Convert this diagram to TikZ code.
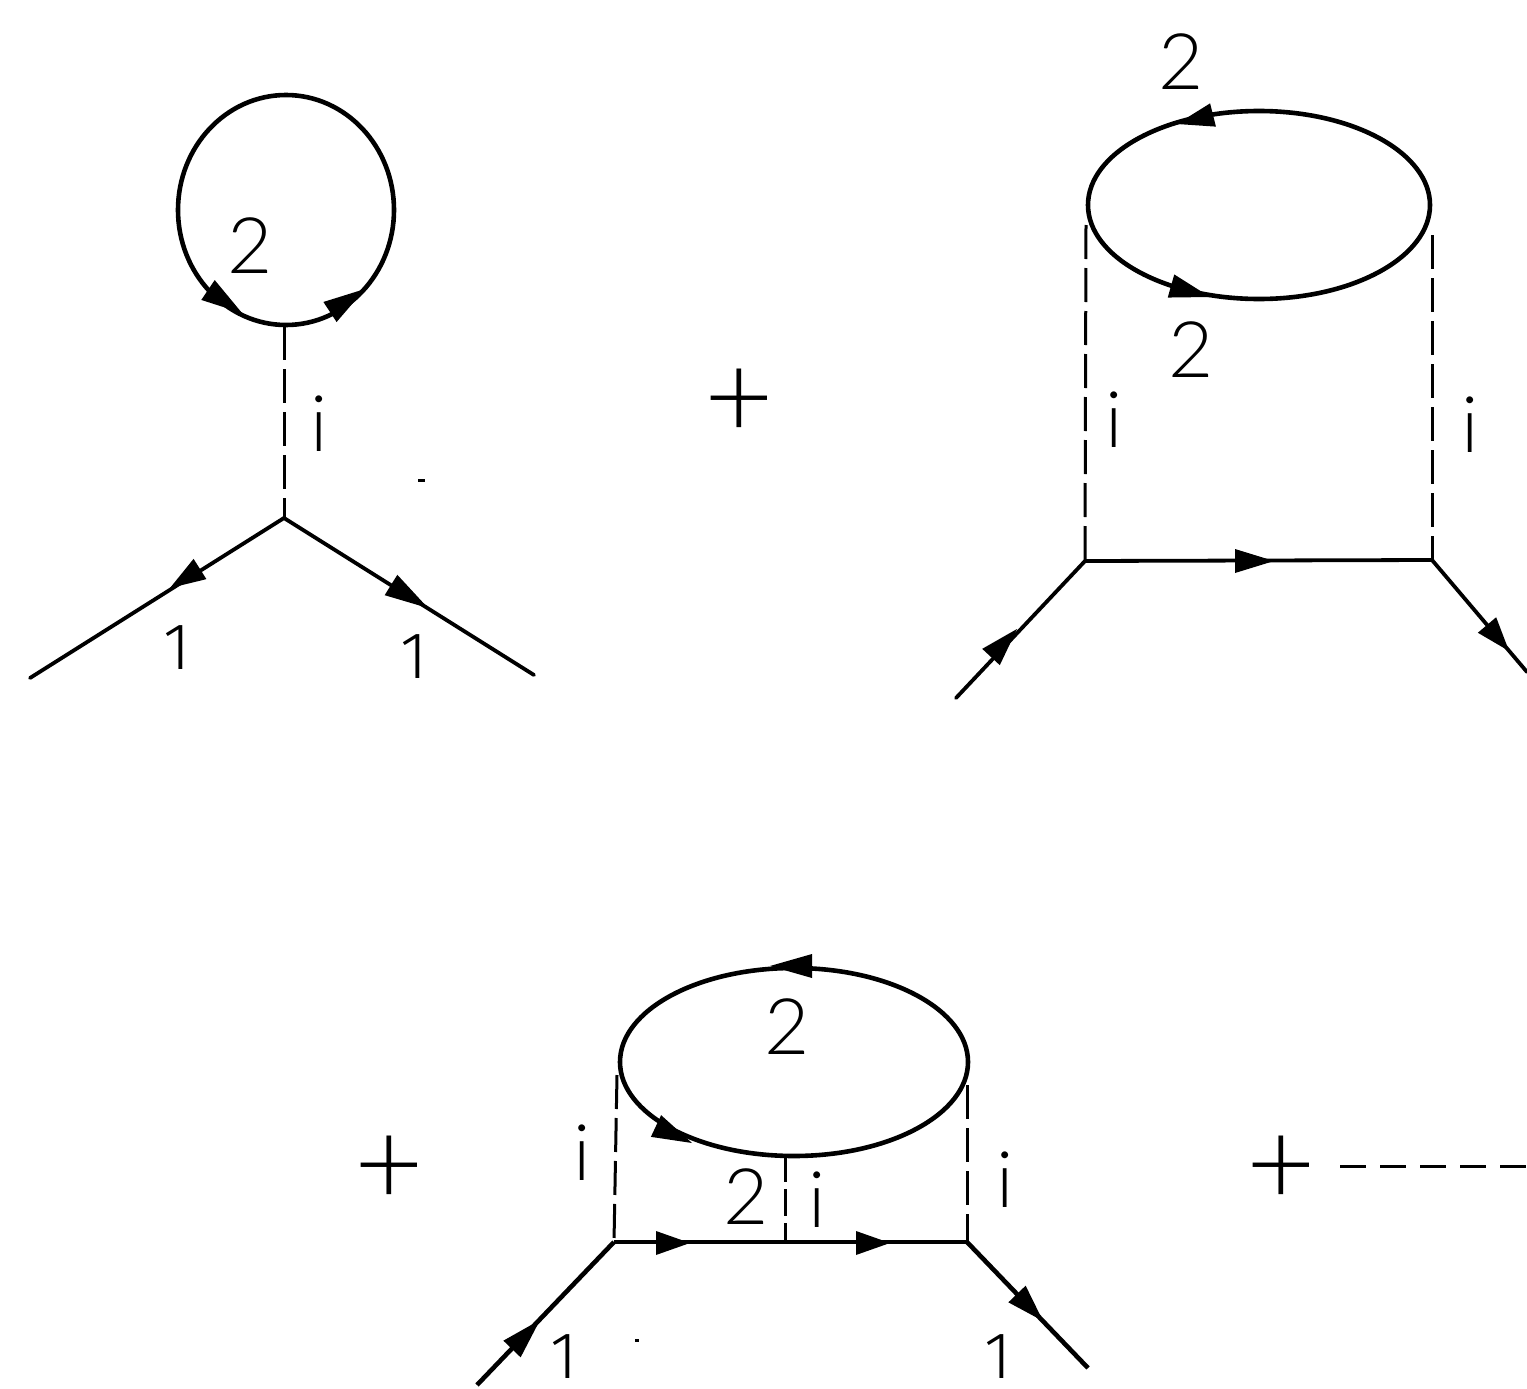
\documentclass[tikz,border=0pt]{standalone}
\usepackage{fontspec}
\setmainfont{Lato Light}
\newfontfamily\onefont{Fira Sans Light}
\usetikzlibrary{calc}
\newcommand{\flowtip}[2]{\fill[black] ($(#1)!12pt!90:(#2)$) -- ($(#1)!12pt!-90:(#2)$) -- (#2) -- cycle;}
\tikzset{
  x=1pt,y=-1pt,
  fline/.style={line width=4.6pt,black},
  sline/.style={line width=3.8pt,black,line cap=round},
  boson/.style={line width=3pt,black,dash pattern=on 34pt off 9pt},
  shortboson/.style={line width=3pt,black,dash pattern=on 27pt off 7pt},
  lab/.style={font=\fontsize{78}{78}\selectfont,inner sep=0pt,text=black},
  onelab/.style={font=\onefont\fontsize{66}{66}\selectfont,inner sep=0pt,text=black},
  plusnode/.style={font=\fontsize{120}{120}\selectfont,inner sep=0pt,text=black},
  tinymark/.style={fill=black,inner sep=0pt,minimum width=7pt,minimum height=3pt},
}
\begin{document}
\begin{tikzpicture}
\useasboundingbox (0,0) rectangle (1527,1389);
% top left
\coordinate (a1) at (284,518);
\coordinate (a2) at (284,326);
\coordinate (a3) at (30,678);
\coordinate (a4) at (534,675);
\draw[fline] (286,210) ellipse [x radius=108,y radius=115];
\flowtip{208,290}{242,313}
\flowtip{330,312}{365,289}
\draw[boson] (a2)--(a1);
\draw[sline] (a1)--(a3);
\draw[sline] (a1)--(a4);
\flowtip{200,569}{170,588}
\flowtip{391,585}{428,608}
\node[lab] (t1) at (250,246) {2};
\node[lab] (t2) at (319,424) {i};
\node[onelab] (t3) at (177,648) {1};
\node[onelab] (t4) at (414,657) {1};
\node[tinymark] (d1) at (421,480) {};
% plus
\node[plusnode] (p1) at (739,404) {+};
% top right
\coordinate (b1) at (1085,561);
\coordinate (b2) at (1432,560);
\coordinate (b3) at (956,698);
\coordinate (b4) at (1527,672);
\coordinate (b5) at (1086,225);
\coordinate (b6) at (1432,235);
\draw[fline] (1259,205) ellipse [x radius=171,y radius=94];
\flowtip{1213,115}{1177,124}
\flowtip{1171,286}{1210,297}
\draw[boson] (b5)--(b1);
\draw[boson] (b6)--(b2);
\draw[sline] (b1)--(b2);
\draw[sline] (b3)--(b1);
\draw[sline] (b2)--(b4);
\flowtip{1235,561}{1274,561}
\flowtip{991,657}{1017,629}
\flowtip{1487,625}{1509,651}
\node[lab] (t5) at (1181,62) {2};
\node[lab] (t6) at (1191,350) {2};
\node[lab] (t7) at (1114,420) {i};
\node[lab] (t8) at (1470,425) {i};
% bottom
\coordinate (c1) at (614,1242);
\coordinate (c2) at (967,1242);
\coordinate (c3) at (477,1385);
\coordinate (c4) at (1088,1368);
\coordinate (c5) at (617,1075);
\coordinate (c6) at (967,1085);
\coordinate (c7) at (785,1155);
\coordinate (c8) at (785,1242);
\draw[fline] (794,1062) ellipse [x radius=174,y radius=94];
\flowtip{812,966}{770,966}
\flowtip{656,1126}{692,1143}
\draw[boson] (c5)--(c1);
\draw[boson] (c6)--(c2);
\draw[shortboson] (c7)--(c8);
\draw[fline] (c1)--(c2);
\draw[fline] (c3)--(c1);
\draw[fline] (c2)--(c4);
\flowtip{656,1243}{690,1243}
\flowtip{856,1243}{890,1243}
\flowtip{1017,1294}{1043,1321}
\flowtip{512,1349}{540,1320}
\node[lab] (t9) at (787,1027) {2};
\node[lab] (t10) at (746,1197) {2};
\node[lab] (t11) at (817,1200) {i};
\node[lab] (t12) at (582,1153) {i};
\node[lab] (t13) at (1005,1180) {i};
\node[onelab] (t14) at (564,1357) {1};
\node[onelab] (t15) at (998,1357) {1};
\node[tinymark,minimum width=4pt] (d2) at (637,1340) {};
\node[plusnode] (p2) at (389,1171) {+};
\node[plusnode] (p3) at (1281,1171) {+};
\coordinate (e1) at (1340,1166);
\coordinate (e2) at (1527,1166);
\draw[line width=3pt,dash pattern=on 26pt off 14pt] (e1)--(e2);
\end{tikzpicture}
\end{document}
